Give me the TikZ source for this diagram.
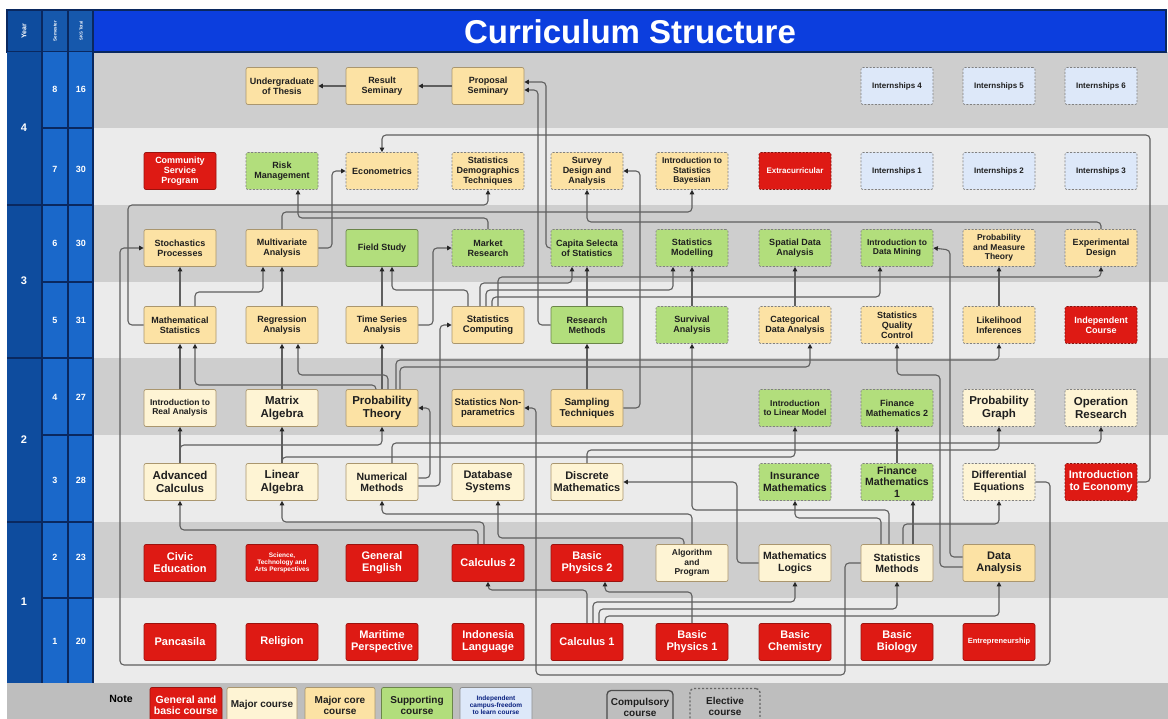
\documentclass[tikz,border=0pt]{standalone}
\usepackage{fontspec}
\setmainfont{Liberation Sans}
\usetikzlibrary{arrows.meta}
\definecolor{cred}{RGB}{222,26,20}
\definecolor{cmaj}{RGB}{254,244,212}
\definecolor{ccore}{RGB}{252,226,164}
\definecolor{csup}{RGB}{178,222,124}
\definecolor{cind}{RGB}{221,232,249}
\definecolor{bandA}{RGB}{206,206,206}
\definecolor{bandB}{RGB}{235,235,235}
\definecolor{noteg}{RGB}{190,190,190}
\definecolor{ttlblue}{RGB}{12,62,222}
\definecolor{yrblue}{RGB}{14,76,158}
\definecolor{smblue}{RGB}{26,104,202}
\definecolor{navy}{RGB}{10,40,95}
\definecolor{lineg}{RGB}{95,95,95}
\definecolor{brd}{RGB}{170,150,110}
\tikzset{
 box/.style={rounded corners=2pt, minimum width=72pt, minimum height=37pt, inner sep=1pt, align=center, line width=0.7pt, text=black!88},
 redbox/.style={box, fill=cred, draw=cred!70!black, text=white},
 majbox/.style={box, fill=cmaj, draw=brd},
 corebox/.style={box, fill=ccore, draw=brd},
 supbox/.style={box, fill=csup, draw=csup!60!black},
 indbox/.style={box, fill=cind, draw=black!45},
 elect/.style={dash pattern=on 2pt off 1.5pt, draw=black!50},
 relect/.style={dash pattern=on 2pt off 1.5pt, draw=cred!60!black},
 f65/.style={font=\bfseries\fontsize{6.5}{7.3}\selectfont},
 f75/.style={font=\bfseries\fontsize{7.5}{8.5}\selectfont},
 f8/.style={font=\bfseries\fontsize{8}{9}\selectfont},
 f85/.style={font=\bfseries\fontsize{8.5}{9.5}\selectfont},
 f9/.style={font=\bfseries\fontsize{9}{10}\selectfont},
 f95/.style={font=\bfseries\fontsize{9.5}{10.5}\selectfont},
 f10/.style={font=\bfseries\fontsize{10}{11}\selectfont},
 f105/.style={font=\bfseries\fontsize{10.5}{11.5}\selectfont},
 f11/.style={font=\bfseries\fontsize{11}{12}\selectfont},
 f115/.style={font=\bfseries\fontsize{11.5}{12.5}\selectfont},
 arr/.style={draw=lineg, line width=1.1pt, rounded corners=4pt, -{Triangle[length=4.5pt,width=4.5pt,color=black!85]}},
 hdr/.style={text=white, font=\bfseries},
}
\begin{document}
\begin{tikzpicture}[x=1pt,y=-1pt]
\useasboundingbox (0,0) rectangle (1168,719);
\fill[white] (0,0) rectangle (1168,719);
% bands
\fill[bandA] (93,52) rectangle (1168,128);
\fill[bandB] (93,128) rectangle (1168,205);
\fill[bandA] (93,205) rectangle (1168,282);
\fill[bandB] (93,282) rectangle (1168,358);
\fill[bandA] (93,358) rectangle (1168,435);
\fill[bandB] (93,435) rectangle (1168,522);
\fill[bandA] (93,522) rectangle (1168,598);
\fill[bandB] (93,598) rectangle (1168,683);
\fill[noteg] (7,683) rectangle (1168,719);
% header
\fill[yrblue] (7,10) rectangle (42,52);
\fill[smblue!85!black] (42,10) rectangle (93,52);
\fill[ttlblue] (93,10) rectangle (1166,52);
\draw[navy, line width=1.5pt] (7,10) rectangle (1166,52);
\draw[navy, line width=1.2pt] (42,10) -- (42,52) (68,10) -- (68,52) (93,10) -- (93,52);
\node[hdr, rotate=90, font=\bfseries\fontsize{7}{8}\selectfont] (hy) at (24,31) {Year};
\node[hdr, rotate=90, font=\bfseries\fontsize{4.5}{5}\selectfont] (hs) at (55,31) {Semester};
\node[hdr, rotate=90, font=\bfseries\fontsize{4.2}{5}\selectfont] (hk) at (81,31) {SKS Total};
\node[hdr, font=\bfseries\fontsize{33}{35}\selectfont] (title) at (630,32) {Curriculum Structure};
% left columns
\fill[yrblue] (7,52) rectangle (42,683);
\fill[smblue] (42,52) rectangle (93,683);
\draw[navy, line width=1.2pt] (42,52) -- (42,683) (68,52) -- (68,683) (93,52) -- (93,683);
\foreach \yy in {128,282,435,598} {\draw[navy, line width=1.2pt] (42,\yy) -- (93,\yy);}
\foreach \yy in {205,358,522} {\draw[navy, line width=1.2pt] (7,\yy) -- (93,\yy);}
\node[hdr, font=\bfseries\fontsize{11}{12}\selectfont] (y4) at (24,128) {4};
\node[hdr, font=\bfseries\fontsize{11}{12}\selectfont] (y3) at (24,281) {3};
\node[hdr, font=\bfseries\fontsize{11}{12}\selectfont] (y2) at (24,440) {2};
\node[hdr, font=\bfseries\fontsize{11}{12}\selectfont] (y1) at (24,602) {1};
\foreach \s/\k/\yy in {8/16/89,7/30/169,6/30/243,5/31/320,4/27/397,3/28/480,2/23/557,1/20/641} {
  \node[hdr, font=\bfseries\fontsize{9}{10}\selectfont] (s\s) at (55,\yy) {\s};
  \node[hdr, font=\bfseries\fontsize{9}{10}\selectfont] (k\s) at (81,\yy) {\k};
}
% row 8
\node[corebox,f9] (ut) at (282,86) {Undergraduate\\of Thesis};
\node[corebox,f9] (rs) at (382,86) {Result\\Seminary};
\node[corebox,f9] (ps) at (488,86) {Proposal\\Seminary};
\node[indbox,elect,f8] (i4) at (897,86) {Internships 4};
\node[indbox,elect,f8] (i5) at (999,86) {Internships 5};
\node[indbox,elect,f8] (i6) at (1101,86) {Internships 6};
% row 7
\node[redbox,f9] (csp) at (180,171) {Community\\Service\\Program};
\node[supbox,elect,f9] (rm) at (282,171) {Risk\\Management};
\node[corebox,elect,f9] (eco) at (382,171) {Econometrics};
\node[corebox,elect,f9] (sdt) at (488,171) {Statistics\\Demographics\\Techniques};
\node[corebox,elect,f9] (sda) at (587,171) {Survey\\Design and\\Analysis};
\node[corebox,elect,f85] (isb) at (692,171) {Introduction to\\Statistics\\Bayesian};
\node[redbox,relect,f8] (ext) at (795,171) {Extracurricular};
\node[indbox,elect,f8] (i1) at (897,171) {Internships 1};
\node[indbox,elect,f8] (i2) at (999,171) {Internships 2};
\node[indbox,elect,f8] (i3) at (1101,171) {Internships 3};
% row 6
\node[corebox,f9] (sp) at (180,248) {Stochastics\\Processes};
\node[corebox,f9] (mva) at (282,248) {Multivariate\\Analysis};
\node[supbox,f9] (fs) at (382,248) {Field Study};
\node[supbox,elect,f9] (mr) at (488,248) {Market\\Research};
\node[supbox,elect,f9] (css) at (587,248) {Capita Selecta\\of Statistics};
\node[supbox,elect,f9] (smod) at (692,248) {Statistics\\Modelling};
\node[supbox,elect,f9] (spa) at (795,248) {Spatial Data\\Analysis};
\node[supbox,elect,f85] (idm) at (897,248) {Introduction to\\Data Mining};
\node[corebox,elect,f85] (pmt) at (999,248) {Probability\\and Measure\\Theory};
\node[corebox,elect,f9] (ed) at (1101,248) {Experimental\\Design};
% row 5
\node[corebox,f9] (ms) at (180,325) {Mathematical\\Statistics};
\node[corebox,f9] (ra) at (282,325) {Regression\\Analysis};
\node[corebox,f9] (tsa) at (382,325) {Time Series\\Analysis};
\node[corebox,f95] (sc) at (488,325) {Statistics\\Computing};
\node[supbox,f9] (resm) at (587,325) {Research\\Methods};
\node[supbox,elect,f9] (sa) at (692,325) {Survival\\Analysis};
\node[corebox,elect,f9] (cda) at (795,325) {Categorical\\Data Analysis};
\node[corebox,elect,f9] (sqc) at (897,325) {Statistics\\Quality\\Control};
\node[corebox,elect,f9] (li) at (999,325) {Likelihood\\Inferences};
\node[redbox,relect,f9] (ic) at (1101,325) {Independent\\Course};
% row 4
\node[majbox,f85] (ira) at (180,408) {Introduction to\\Real Analysis};
\node[majbox,f115] (mal) at (282,408) {Matrix\\Algebra};
\node[corebox,f115] (pt) at (382,408) {Probability\\Theory};
\node[corebox,f95] (snp) at (488,408) {Statistics Non-\\parametrics};
\node[corebox,f10] (st) at (587,408) {Sampling\\Techniques};
\node[supbox,elect,f85] (ilm) at (795,408) {Introduction\\to Linear Model};
\node[supbox,elect,f9] (fm2) at (897,408) {Finance\\Mathematics 2};
\node[majbox,elect,f115] (pg) at (999,408) {Probability\\Graph};
\node[majbox,elect,f115] (opr) at (1101,408) {Operation\\Research};
% row 3
\node[majbox,f115] (ac) at (180,482) {Advanced\\Calculus};
\node[majbox,f115] (la) at (282,482) {Linear\\Algebra};
\node[majbox,f105] (nm) at (382,482) {Numerical\\Methods};
\node[majbox,f11] (dbs) at (488,482) {Database\\Systems};
\node[majbox,f11] (dm) at (587,482) {Discrete\\Mathematics};
\node[supbox,elect,f105] (im) at (795,482) {Insurance\\Mathematics};
\node[supbox,elect,f105] (fm1) at (897,482) {Finance\\Mathematics\\1};
\node[majbox,elect,f105] (de) at (999,482) {Differential\\Equations};
\node[redbox,relect,f11] (ie) at (1101,482) {Introduction\\to Economy};
% row 2
\node[redbox,f11] (ce) at (180,563) {Civic\\Education};
\node[redbox,f65] (sta) at (282,563) {Science,\\Technology and\\Arts Perspectives};
\node[redbox,f11] (ge) at (382,563) {General\\English};
\node[redbox,f11] (cal2) at (488,563) {Calculus 2};
\node[redbox,f11] (bp2) at (587,563) {Basic\\Physics 2};
\node[majbox,f85] (ap) at (692,563) {Algorithm\\and\\Program};
\node[majbox,f105] (mlog) at (795,563) {Mathematics\\Logics};
\node[majbox,f105] (smeth) at (897,563) {Statistics\\Methods};
\node[corebox,f11] (da) at (999,563) {Data\\Analysis};
% row 1
\node[redbox,f11] (pan) at (180,642) {Pancasila};
\node[redbox,f11] (rel) at (282,642) {Religion};
\node[redbox,f11] (mar) at (382,642) {Maritime\\Perspective};
\node[redbox,f11] (il) at (488,642) {Indonesia\\Language};
\node[redbox,f11] (cal1) at (587,642) {Calculus 1};
\node[redbox,f11] (bp1) at (692,642) {Basic\\Physics 1};
\node[redbox,f11] (bc) at (795,642) {Basic\\Chemistry};
\node[redbox,f11] (bb) at (897,642) {Basic\\Biology};
\node[redbox,f75] (ent) at (999,642) {Entrepreneurship};
% legend
\node[font=\bfseries\fontsize{10.5}{11}\selectfont] (note) at (121,699) {Note};
\node[redbox,f105,minimum width=72pt,minimum height=35pt] (lg1) at (186,705) {General and\\basic course};
\node[majbox,f10,minimum width=70pt,minimum height=35pt] (lg2) at (262,705) {Major course};
\node[corebox,f10,minimum width=70pt,minimum height=35pt] (lg3) at (340,705) {Major core\\course};
\node[supbox,f10,minimum width=71pt,minimum height=35pt] (lg4) at (417,705) {Supporting\\course};
\node[indbox,f65,minimum width=72pt,minimum height=35pt,text=navy!80!blue] (lg5) at (496,705) {Independent\\campus-freedom\\to learn course};
\node[box,f10,draw=black!70,line width=1.3pt,rounded corners=4pt,minimum width=66pt,minimum height=33pt] (lg6) at (640,707) {Compulsory\\course};
\node[box,f10,draw=black!60,line width=1.3pt,dash pattern=on 2pt off 2pt,rounded corners=4pt,minimum width=70pt,minimum height=35pt] (lg7) at (725,706) {Elective\\course};
% connectors: top
\draw[arr] (rs.west) -- (ut.east);
\draw[arr] (ps.west) -- (rs.east);
\draw[arr] (resm.west) -| (538,90) -- ([yshift=-4pt]ps.east);
\draw[arr] (css.west) -| (546,82) -- ([yshift=4pt]ps.east);
\draw[arr] (ie.east) -| (1150,135) -| (eco.north);
\draw[arr] (mva.east) -| (332,171) -- (eco.west);
\draw[arr] (mr.north) |- (298,218) -- ([xshift=16pt]rm.south);
\draw[arr] (ms.west) -| (128,205) -| (sdt.south);
\draw[arr] (mva.north) |- (692,212) -- (isb.south);
\draw[arr] (ed.north) |- (587,222) -- (sda.south);
\draw[arr] (st.east) -| (640,171) -- (sda.east);
% row 5 -> 6
\draw[arr] (ms.north) -- (sp.south);
\draw[arr] ([xshift=15pt]ms.north) |- (263,292) -- ([xshift=-19pt]mva.south);
\draw[arr] (ra.north) -- (mva.south);
\draw[arr] (tsa.north) -- (fs.south);
\draw[arr] ([xshift=-20pt]sc.north) |- (392,290) -- ([xshift=10pt]fs.south);
\draw[arr] (tsa.east) -| (433,248) -- (mr.west);
\draw[arr] (resm.north) -- (css.south);
\draw[arr] ([xshift=-8pt]sc.north) |- (572,283) -- ([xshift=-15pt]css.south);
\draw[arr] ([xshift=-2pt]sc.north) |- (673,290) -- ([xshift=-19pt]smod.south);
\draw[arr] ([xshift=4pt]sc.north) |- (880,297) -- ([xshift=-17pt]idm.south);
\draw[arr] ([xshift=10pt]sc.north) |- (1101,277) -- (ed.south);
\draw[arr] (sa.north) -- (smod.south);
\draw[arr] (cda.north) -- (spa.south);
\draw[arr] (li.north) -- (pmt.south);
% row 4 -> 5
\draw[arr] (ira.north) -- (ms.south);
\draw[arr] ([xshift=-6pt]pt.north) |- (195,385) -- ([xshift=15pt]ms.south);
\draw[arr] (mal.north) -- (ra.south);
\draw[arr] ([xshift=6pt]pt.north) |- (298,375) -- ([xshift=16pt]ra.south);
\draw[arr] (pt.north) -- (tsa.south);
\draw[arr] ([yshift=4pt]nm.east) -| (430,408) -- (pt.east);
\draw[arr] ([yshift=-4pt]nm.east) -| (440,325) -- (sc.west);
\draw[arr] (st.north) -- (resm.south);
\draw[arr] ([xshift=-8pt]smeth.north) |- (692,510) -- (sa.south);
\draw[arr] ([xshift=18pt]pt.north) |- (810,367) -- ([xshift=15pt]cda.south);
\draw[arr] ([xshift=14pt]pt.north) |- (999,360) -- (li.south);
\draw[arr] ([yshift=6pt]da.west) -| (950,250) -- (idm.east);
\draw[arr] ([yshift=-4pt]da.west) -| (940,375) -| (sqc.south);
% row 3 -> 4
\draw[arr] (ac.north) -- (ira.south);
\draw[arr] (ac.north) |- (382,445) -- (pt.south);
\draw[arr] (la.north) -- (mal.south);
\draw[arr] (la.north) |- (795,457) -- (ilm.south);
\draw[arr] ([xshift=10pt]nm.north) |- (1101,443) -- (opr.south);
\draw[arr] (dm.north) |- (999,450) -- (pg.south);
\draw[arr] (fm1.north) -- (fm2.south);
% row 2 -> 3
\draw[arr] ([xshift=-10pt]cal2.north) |- (180,530) -- (ac.south);
\draw[arr] ([xshift=-4pt]cal2.north) |- (282,522) -- (la.south);
\draw[arr] (ap.north) |- (382,514) -- (nm.south);
\draw[arr] ([xshift=-8pt]ap.north) |- (498,538) -- ([xshift=10pt]dbs.south);
\draw[arr] (mlog.west) -| (737,482) -- (dm.east);
\draw[arr] ([xshift=-16pt]smeth.north) |- (795,518) -- (im.south);
\draw[arr] ([xshift=16pt]smeth.north) -- ([xshift=16pt]fm1.south);
\draw[arr] ([xshift=6pt]smeth.north) |- (999,524) -- (de.south);
% row 1 -> 2
\draw[arr] (cal1.north) |- (488,590) -- (cal2.south);
\draw[arr] (bp1.north) |- (605,592) -- ([xshift=18pt]bp2.south);
\draw[arr] ([xshift=6pt]cal1.north) |- (795,602) -- (mlog.south);
\draw[arr] ([xshift=12pt]cal1.north) |- (897,609) -- (smeth.south);
\draw[arr] ([xshift=18pt]cal1.north) |- (999,616) -- (da.south);
% long loops
\draw[arr] (de.east) -| (1050,665) -| (120,248) -- (sp.west);
\draw[arr] (smeth.west) -| (845,675) -| (536,408) -- (snp.east);
\end{tikzpicture}
\end{document}
